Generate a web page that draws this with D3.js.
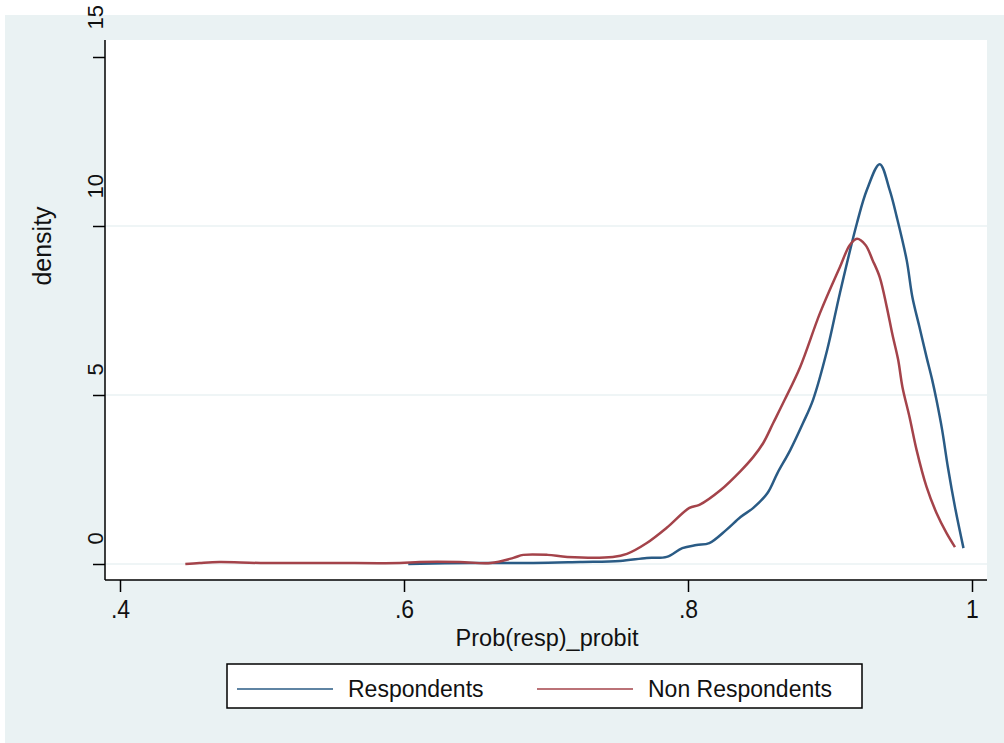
<!DOCTYPE html>
<html>
<head>
<meta charset="utf-8">
<script src="https://cdn.jsdelivr.net/npm/d3@7"></script>
<style>
  body { margin: 0; background: #fff; }
  text { font-family: "Liberation Sans", Arial, sans-serif; fill: #111; }
</style>
</head>
<body>
<div id="chart"></div>
<script>
// kernel density, Respondents
const respX = [0.603, 0.646, 0.691, 0.724, 0.752, 0.771, 0.785, 0.796, 0.806, 0.815, 0.827, 0.837, 0.846, 0.856, 0.863, 0.872, 0.881, 0.888, 0.898, 0.907, 0.919, 0.926, 0.935, 0.942, 0.947, 0.954, 0.958, 0.963, 0.968, 0.972, 0.975, 0.979, 0.983, 0.988, 0.994]
const respY = [0, 0.03, 0.03, 0.06, 0.09, 0.18, 0.21, 0.47, 0.56, 0.62, 1.01, 1.39, 1.66, 2.10, 2.69, 3.37, 4.17, 4.85, 6.33, 8.02, 10.09, 11.07, 11.83, 11.07, 10.27, 8.99, 7.90, 7.01, 6.12, 5.44, 4.85, 3.96, 2.87, 1.69, 0.47]
// kernel density, Non Respondents
const nonX = [0.446, 0.456, 0.470, 0.499, 0.548, 0.597, 0.611, 0.639, 0.661, 0.677, 0.684, 0.701, 0.715, 0.747, 0.757, 0.771, 0.785, 0.801, 0.808, 0.823, 0.837, 0.846, 0.853, 0.860, 0.868, 0.879, 0.893, 0.907, 0.914, 0.919, 0.925, 0.930, 0.935, 0.940, 0.944, 0.948, 0.951, 0.956, 0.961, 0.968, 0.975, 0.982, 0.988]
const nonY = [0, 0.03, 0.06, 0.03, 0.03, 0.03, 0.06, 0.06, 0.03, 0.18, 0.27, 0.27, 0.21, 0.21, 0.30, 0.62, 1.07, 1.66, 1.75, 2.19, 2.75, 3.17, 3.58, 4.17, 4.85, 5.83, 7.43, 8.79, 9.44, 9.62, 9.44, 8.99, 8.49, 7.60, 6.78, 6.04, 5.24, 4.35, 3.37, 2.28, 1.51, 0.92, 0.50]

const xTicks = [0.4, 0.6, 0.8, 1]
const yTicks = [0, 5, 10, 15]
const seriesNames = ["Respondents", "Non Respondents"]
const seriesColors = ["#2a5b85", "#a4434a"]

const W = 1004, H = 743
const svg = d3.select("#chart").append("svg")
  .attr("width", W).attr("height", H)

// outer background (Stata bluish gray)
svg.append("rect").attr("x", 5).attr("y", 15).attr("width", W - 5).attr("height", H - 15)
  .attr("fill", "#eaf2f3")
// plot region
svg.append("rect").attr("x", 105).attr("y", 40).attr("width", 882).attr("height", 540)
  .attr("fill", "#fff")

const x = d3.scaleLinear().domain([0.4, 1]).range([120, 972])
const y = d3.scaleLinear().domain([0, 15]).range([564, 57])

// grid lines
svg.append("g").selectAll("line")
  .data(yTicks.filter(d => d < 15))
  .enter().append("line")
  .attr("x1", 105).attr("x2", 987)
  .attr("y1", d => y(d)).attr("y2", d => y(d))
  .style("stroke", "#eaf2f3").style("stroke-width", "1.5px")

// y axis
const yAxis = svg.append("g").attr("transform", "translate(105,0)")
  .call(d3.axisLeft(y).tickValues(yTicks).tickSize(12).tickFormat(d3.format("d")))
yAxis.select(".domain").remove()
yAxis.selectAll(".tick line").style("stroke", "#000").style("stroke-width", "1.5px")
yAxis.selectAll(".tick text").remove()
yAxis.selectAll(".tick").append("text")
  .attr("transform", d => "translate(-2," + (String(d).length > 1 ? -28 : -20) + ") rotate(-90)")
  .attr("text-anchor", "start")
  .style("font-size", "22px")
  .text(d => d)
svg.append("line").attr("x1", 105).attr("x2", 105).attr("y1", 40).attr("y2", 580)
  .style("stroke", "#000").style("stroke-width", "1.5px")

// x axis
const xAxis = svg.append("g").attr("transform", "translate(0,580)")
  .call(d3.axisBottom(x).tickValues(xTicks).tickSize(12).tickFormat(d => d === 1 ? "1" : d3.format(".1f")(d).replace(/^0/, "")))
xAxis.select(".domain").remove()
xAxis.selectAll(".tick line").style("stroke", "#000").style("stroke-width", "1.5px")
xAxis.selectAll(".tick text").attr("y", 0).attr("dy", null)
  .attr("transform", "translate(0,38) scale(1,1.15)")
  .style("font-size", "23px").style("font-family", "'Liberation Sans', Arial, sans-serif")
svg.append("line").attr("x1", 105).attr("x2", 987).attr("y1", 580).attr("y2", 580)
  .style("stroke", "#000").style("stroke-width", "1.5px")

// axis titles
svg.append("text").attr("transform", "translate(51,246) rotate(-90)")
  .attr("text-anchor", "middle").style("font-size", "25px").text("density")
svg.append("text").attr("x", 547).attr("y", 646)
  .attr("text-anchor", "middle").style("font-size", "23.5px").text("Prob(resp)_probit")

// density lines
const line = d3.line()
  .x(d => x(d[0])).y(d => y(d[1]))
  .curve(d3.curveCatmullRom.alpha(0.5))
const series = [d3.zip(respX, respY), d3.zip(nonX, nonY)]
svg.append("g").selectAll("path")
  .data(series)
  .enter().append("path")
  .attr("d", line)
  .style("fill", "none")
  .style("stroke", (d, i) => seriesColors[i])
  .style("stroke-width", "2.5px")

// legend
const lg = svg.append("g")
lg.append("rect").attr("x", 227).attr("y", 664).attr("width", 635).attr("height", 44)
  .attr("fill", "#fff").style("stroke", "#000").style("stroke-width", "1.5px")
const item = lg.selectAll(".item")
  .data(seriesNames)
  .enter().append("g")
  .attr("transform", (d, i) => "translate(" + (237 + i * 300) + ",689)")
item.append("line").attr("x1", 0).attr("x2", 96)
  .style("stroke", (d, i) => seriesColors[i]).style("stroke-width", "1.5px")
item.append("text").attr("x", 111).attr("y", 8).style("font-size", "23px").text(d => d)
</script>
</body>
</html>
